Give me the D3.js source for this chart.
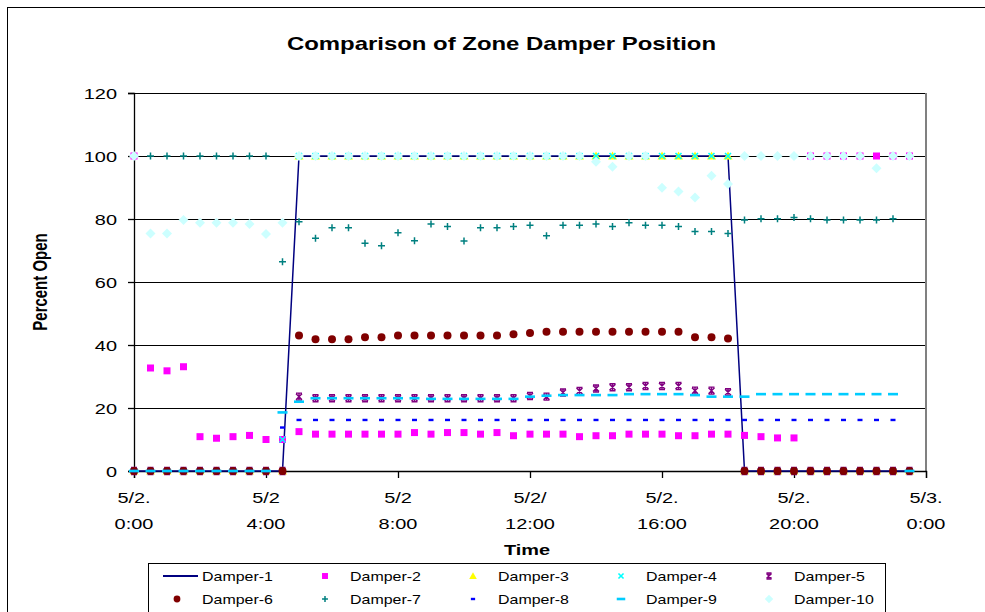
<!DOCTYPE html>
<html><head><meta charset="utf-8">
<script src="https://cdn.jsdelivr.net/npm/d3@7"></script>
<style>body{margin:0;background:#fff;} svg{display:block;font-family:"Liberation Sans",Arial,sans-serif;}</style>
</head><body>
<svg id="c" width="985" height="612"></svg>
<script>
const hours = [0,0.5,1,1.5,2,2.5,3,3.5,4,4.5,5,5.5,6,6.5,7,7.5,8,8.5,9,9.5,10,10.5,11,11.5,12,12.5,13,13.5,14,14.5,15,15.5,16,16.5,17,17.5,18,18.5,19,19.5,20,20.5,21,21.5,22,22.5,23,23.5];
const xTickHours = [0,4,8,12,16,20,24];
const xTickDates = ["5/2.","5/2","5/2","5/2/","5/2.","5/2.","5/3."];
const xTickTimes = ["0:00","4:00","8:00","12:00","16:00","20:00","0:00"];
const yTicks = [0,20,40,60,80,100,120];

const damper1 = [0,0,0,0,0,0,0,0,0,0,100,100,100,100,100,100,100,100,100,100,100,100,100,100,100,100,100,100,100,100,100,100,100,100,100,100,100,0,0,0,0,0,0,0,0,0,0,0];
const damper2 = [100,32.7,31.8,33.1,10.9,10.4,10.9,11.3,10.0,10.0,12.5,11.7,11.7,11.7,11.7,11.7,11.7,12.2,11.7,12.2,12.2,11.7,12.2,11.2,11.7,11.7,11.7,10.9,11.2,11.2,11.7,11.7,11.7,11.2,11.2,11.7,11.7,11.3,10.9,10.5,10.5,100,100,100,100,100,100,100];
const damper3 = [0,0,0,0,0,0,0,0,0,0,100,100,100,100,100,100,100,100,100,100,100,100,100,100,100,100,100,100,100,100,100,100,100,100,100,100,100,0,0,0,0,0,0,0,0,0,0,0];
const damper4 = [0,0,0,0,0,0,0,0,0,10.0,100,100,100,100,100,100,100,100,100,100,100,100,100,100,100,100,100,100,100,100,100,100,100,100,100,100,100,0,0,0,0,0,0,0,0,0,0,0];
const damper5 = [0,0,0,0,0,0,0,0,0,0,23.6,23.1,23.1,23.1,23.1,23.1,23.1,23.1,23.1,23.1,23.1,23.1,23.1,23.1,23.8,23.6,24.9,25.4,26.2,26.6,26.6,27.0,27.0,27.0,25.5,25.5,25.0,0,0,0,0,0,0,0,0,0,0,0];
const damper6 = [0,0,0,0,0,0,0,0,0,0,43.0,41.8,41.8,41.8,42.5,42.5,43.0,43.0,43.0,43.0,43.0,43.0,43.0,43.4,43.8,44.2,44.2,44.2,44.2,44.2,44.2,44.2,44.2,44.2,42.5,42.5,42.1,0,0,0,0,0,0,0,0,0,0,0];
const damper7 = [100,100,100,100,100,100,100,100,100,66.4,79.1,73.9,77.2,77.2,72.3,71.5,75.6,73.1,78.4,77.6,73.0,77.2,77.2,77.6,78.0,74.7,78.0,78.0,78.4,77.6,78.8,78.0,78.0,77.6,76.0,76.0,75.4,79.7,80.1,80.1,80.5,80.1,79.7,79.7,79.7,79.7,80.1,null];
const damper8 = [0,0,0,0,0,0,0,0,0,13.8,16.2,16.2,16.2,16.2,16.2,16.2,16.2,16.2,16.2,16.2,16.2,16.2,16.2,16.2,16.2,16.2,16.2,16.2,16.2,16.2,16.2,16.2,16.2,16.2,16.2,16.2,16.2,16.2,16.2,16.2,16.2,16.2,16.2,16.2,16.2,16.2,16.2,null];
const damper9 = [0,0,0,0,0,0,0,0,0,18.6,22.0,23.1,23.1,23.1,23.1,23.1,23.1,23.1,22.9,22.9,22.9,22.9,22.9,22.9,23.6,23.9,24.1,24.1,24.1,24.1,24.4,24.4,24.4,24.4,24.1,23.6,23.6,23.6,24.4,24.4,24.4,24.4,24.4,24.4,24.4,24.4,24.4,0];
const damper10 = [100,75.4,75.4,79.7,78.8,78.8,78.8,78.4,75.2,78.8,100,100,100,100,100,100,100,100,100,100,100,100,100,100,100,100,100,100,98.2,96.6,100,100,89.9,88.7,86.8,93.7,91.1,100,100,100,100,100,100,100,100,96.1,100,100];

const seriesNames = ["Damper-1","Damper-2","Damper-3","Damper-4","Damper-5","Damper-6","Damper-7","Damper-8","Damper-9","Damper-10"];
const seriesValues = [damper1,damper2,damper3,damper4,damper5,damper6,damper7,damper8,damper9,damper10];
const seriesColors = ["#000080","#FF00FF","#FFFF00","#00FFFF","#800080","#800000","#008080","#0000FF","#00CCFF","#CCFFFF"];
const seriesMarks = ["line","square","triangle","x","star","circle","plus","dash","longdash","diamond"];

const SX = 1.33; // horizontal stretch of the original picture's text
const svg = d3.select("#c");
const x = d3.scaleLinear().domain([0,24]).range([134,926]);
const y = d3.scaleLinear().domain([0,120]).range([471,93]);

function txt(g, tx, ty, str, size, anchor, bold, rot){
  return g.append("text")
    .attr("transform", `translate(${tx},${ty}) scale(${SX},1)` + (rot ? ` rotate(${rot})` : ""))
    .attr("text-anchor", anchor || "start")
    .attr("font-size", size)
    .attr("font-weight", bold ? "bold" : "normal")
    .attr("fill", "#000")
    .text(str);
}

// outer chart frame
svg.append("rect").attr("x",7.5).attr("y",7.5).attr("width",990).attr("height",620)
  .attr("fill","none").attr("stroke","#000").attr("stroke-width",1);

// title
txt(svg, 501.5, 50, "Comparison of Zone Damper Position", 18, "middle", true);

// gridlines
svg.append("g").selectAll("line").data(yTicks.filter(d=>d>0)).join("line")
  .attr("x1",x(0)).attr("x2",x(24)).attr("y1",d=>y(d)).attr("y2",d=>y(d))
  .attr("stroke","#000").attr("stroke-width",1).attr("shape-rendering","crispEdges");
// plot frame right
svg.append("line").attr("x1",x(24)).attr("x2",x(24)).attr("y1",y(120)).attr("y2",y(0))
  .attr("stroke","#808080").attr("stroke-width",2);

// y axis
const yAx = svg.append("g").attr("transform",`translate(${x(0)},0)`)
  .call(d3.axisLeft(y).tickValues(yTicks).tickSize(6).tickFormat(""));
yAx.selectAll("line,path").attr("stroke","#000").attr("stroke-width",1.3);
const yl = svg.append("g");
yTicks.forEach(t => txt(yl, 117, y(t)+5.5, d3.format("d")(t), 15, "end", false));

// x axis
const xAx = svg.append("g").attr("transform",`translate(0,${y(0)})`)
  .call(d3.axisBottom(x).tickValues(xTickHours).tickSize(7).tickFormat(""));
xAx.selectAll("line,path").attr("stroke","#000").attr("stroke-width",1.3);
const xl = svg.append("g");
xTickHours.forEach((h,i)=>{
  txt(xl, x(h), 503, xTickDates[i], 15, "middle", false);
  txt(xl, x(h), 529, xTickTimes[i], 15, "middle", false);
});

// axis titles
txt(svg, 527, 555, "Time", 15, "middle", true);
txt(svg, 47, 282, "Percent Open", 15, "middle", true, -90);

function drawMark(g, type, color, k){
  k = k || 1;
  switch(type){
    case "square": g.append("rect").attr("x",-3.5*k).attr("y",-3.5*k).attr("width",7*k).attr("height",7*k).attr("fill",color); break;
    case "triangle": g.append("path").attr("d",`M0,${-4.5*k}L${4.5*k},${3.5*k}L${-4.5*k},${3.5*k}Z`).attr("fill",color); break;
    case "x": g.append("path").attr("d",`M${-3*k},${-3*k}L${3*k},${3*k}M${-3*k},${3*k}L${3*k},${-3*k}`).attr("stroke",color).attr("stroke-width",1.6).attr("fill","none"); break;
    case "star": g.append("path").attr("d",`M${-3*k},${-3*k}L${3*k},${3*k}M${-3*k},${3*k}L${3*k},${-3*k}M0,${-3.5*k}L0,${3.5*k}M${-3*k},${-3.5*k}L${3*k},${-3.5*k}M${-3*k},${3.5*k}L${3*k},${3.5*k}`).attr("stroke",color).attr("stroke-width",1.4).attr("fill","none"); break;
    case "circle": g.append("circle").attr("r",4*k).attr("fill",color); break;
    case "plus": g.append("path").attr("d",`M${-3.5*k},0L${3.5*k},0M0,${-3.5*k}L0,${3.5*k}`).attr("stroke",color).attr("stroke-width",1.5).attr("fill","none"); break;
    case "dash": g.append("rect").attr("x",-2.5*k).attr("y",-1.2).attr("width",5*k).attr("height",2.4).attr("fill",color); break;
    case "longdash": g.append("rect").attr("x",-5*k).attr("y",-1.3).attr("width",10*k).attr("height",2.6).attr("fill",color); break;
    case "diamond": g.append("path").attr("d",`M0,${-5*k}L${5*k},0L0,${5*k}L${-5*k},0Z`).attr("fill",color); break;
  }
}

const plot = svg.append("g");
seriesValues.forEach((vals,si)=>{
  const type = seriesMarks[si], color = seriesColors[si];
  const pts = hours.map((h,i)=>({h,v:vals[i]})).filter(d=>d.v!==null);
  if(type==="line"){
    plot.append("path").datum(pts).attr("fill","none").attr("stroke",color).attr("stroke-width",1.5)
      .attr("d",d3.line().x(d=>x(d.h)).y(d=>y(d.v)));
  } else {
    const gs = plot.append("g").selectAll("g").data(pts).join("g")
      .attr("transform",d=>`translate(${x(d.h)},${y(d.v)})`);
    gs.each(function(){ drawMark(d3.select(this), type, color); });
  }
});

// legend
const lg = svg.append("g");
lg.append("rect").attr("x",148.5).attr("y",563.5).attr("width",737).attr("height",60)
  .attr("fill","#fff").attr("stroke","#000").attr("stroke-width",1);
seriesNames.forEach((n,i)=>{
  const col = i%5, row = Math.floor(i/5);
  const cx = 180 + col*148, cy = 576 + row*23;
  const g = lg.append("g").attr("transform",`translate(${cx},${cy})`);
  if(seriesMarks[i]==="line"){
    g.append("line").attr("x1",-17).attr("x2",18).attr("stroke",seriesColors[i]).attr("stroke-width",2);
  } else {
    const mg = g.append("g").attr("transform","translate(-3,0)");
    drawMark(mg, seriesMarks[i], seriesColors[i], 0.85);
  }
  txt(g, 22, 4.5, n, 12, "start", false);
});
</script>
</body></html>
